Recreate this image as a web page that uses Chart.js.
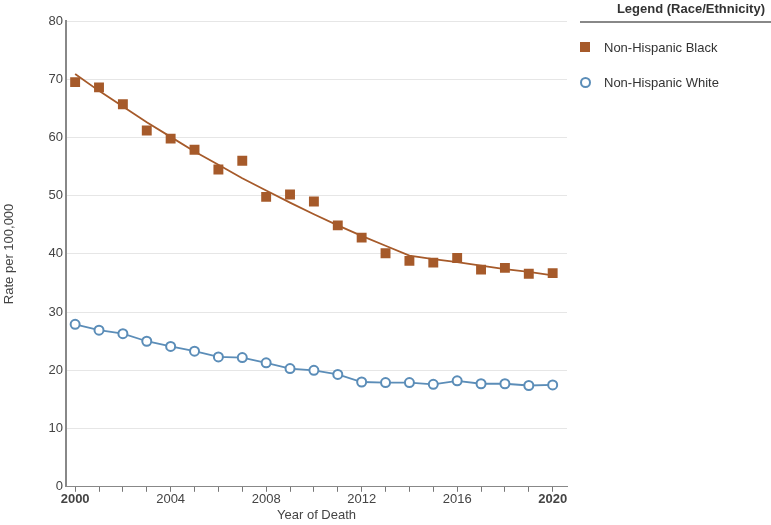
<!DOCTYPE html>
<html>
<head>
<meta charset="utf-8">
<script src="https://cdn.jsdelivr.net/npm/chart.js@4"></script>
<style>
  body { margin: 0; background: #fff; font-family: "Liberation Sans", Arial, sans-serif; }
  #wrap { position: relative; width: 771px; height: 525px; }
  #legend { position: absolute; left: 580px; top: 0; width: 191px; color: #333; font-size: 13px; }
  #legend .title { font-weight: bold; text-align: right; padding: 1px 6px 5px 0; border-bottom: 2px solid #888; }
  #legend .item { position: absolute; left: 24px; white-space: nowrap; }
  #legend .sq { position: absolute; left: 0; width: 10px; height: 10px; background: #a65a2a; }
  #legend .ci { position: absolute; left: 0; width: 7px; height: 7px; border: 2px solid #5b8db8; border-radius: 50%; }
</style>
</head>
<body>
<div id="wrap">
  <canvas id="chartCanvas" width="771" height="525"></canvas>
  <div id="legend">
    <div class="title">Legend (Race/Ethnicity)</div>
    <div class="sq" style="top:42px"></div>
    <div class="item" style="top:40px">Non-Hispanic Black</div>
    <div class="ci" style="top:77px"></div>
    <div class="item" style="top:75px">Non-Hispanic White</div>
  </div>
</div>
<script>
const years = [2000, 2001, 2002, 2003, 2004, 2005, 2006, 2007, 2008, 2009, 2010,
               2011, 2012, 2013, 2014, 2015, 2016, 2017, 2018, 2019, 2020];
const blackRates = [69.5, 68.6, 65.7, 61.2, 59.8, 57.9, 54.5, 56.0, 49.8, 50.2, 49.0,
                    44.9, 42.8, 40.1, 38.8, 38.5, 39.3, 37.3, 37.6, 36.6, 36.7];
const blackTrend = [70.9, 68.0, 65.3, 62.6, 60.1, 57.6, 55.3, 53.0, 50.9, 48.8, 46.8,
                    44.9, 43.1, 41.4, 39.7, 39.1, 38.6, 38.0, 37.4, 36.9, 36.3];
const whiteRates = [27.9, 26.9, 26.3, 25.0, 24.1, 23.3, 22.3, 22.2, 21.3, 20.3, 20.0,
                    19.3, 18.0, 17.9, 17.9, 17.6, 18.2, 17.7, 17.7, 17.4, 17.5];
const xLabels = [2000, 2004, 2008, 2012, 2016, 2020];

const brown = "#a65a2a";
const blue = "#5b8db8";

Chart.defaults.font.family = '"Liberation Sans", Arial, sans-serif';
Chart.defaults.font.size = 12;
Chart.defaults.color = "#444";

let ctx = document.querySelector("#chartCanvas");

let graph = new Chart(ctx, {
    type: "scatter",
    data: {
        datasets: [
            {
                label: "Non-Hispanic Black trend",
                data: years.map((y, i) => ({ x: y, y: blackTrend[i] })),
                showLine: true,
                borderColor: brown,
                borderWidth: 1.8,
                pointRadius: 0,
                order: 3
            },
            {
                label: "Non-Hispanic Black",
                data: years.map((y, i) => ({ x: y, y: blackRates[i] })),
                showLine: false,
                pointStyle: "rect",
                pointRadius: 7,
                backgroundColor: brown,
                borderColor: brown,
                borderWidth: 0,
                order: 1
            },
            {
                label: "Non-Hispanic White",
                data: years.map((y, i) => ({ x: y, y: whiteRates[i] })),
                showLine: true,
                borderColor: blue,
                borderWidth: 1.8,
                pointRadius: 4.5,
                pointBorderWidth: 2,
                pointBackgroundColor: "#fff",
                pointBorderColor: blue,
                order: 2
            }
        ]
    },
    options: {
        responsive: false,
        animation: false,
        layout: { padding: { top: 21, right: 204, left: 2, bottom: 2 } },
        plugins: {
            legend: { display: false },
            tooltip: { enabled: false }
        },
        scales: {
            x: {
                type: "linear",
                min: 1999.62,
                max: 2020.6,
                afterBuildTicks: (scale) => {
                    scale.ticks = years.map(v => ({ value: v }));
                },
                ticks: {
                    autoSkip: false,
                    maxRotation: 0,
                    padding: 0,
                    color: "#444",
                    callback: (v) => xLabels.includes(v) ? String(v) : "",
                    font: (c) => ({ size: 13, weight: (c.tick && (c.tick.value === 2000 || c.tick.value === 2020)) ? "bold" : "normal" })
                },
                grid: { drawOnChartArea: false, tickLength: 5, color: "#777" },
                border: { color: "#888", width: 1 },
                title: { display: true, text: "Year of Death", color: "#444", font: { size: 13 }, padding: { top: 0, bottom: 0 } }
            },
            y: {
                min: 0,
                max: 80,
                ticks: { stepSize: 10, color: "#444", font: { size: 13 }, padding: 3 },
                grid: { color: "#e6e6e6", drawTicks: false },
                border: { color: "#888", width: 2 },
                title: { display: true, text: "Rate per 100,000", color: "#444", font: { size: 13 }, padding: { top: 0, bottom: 28 } }
            }
        }
    }
});
</script>
</body>
</html>
